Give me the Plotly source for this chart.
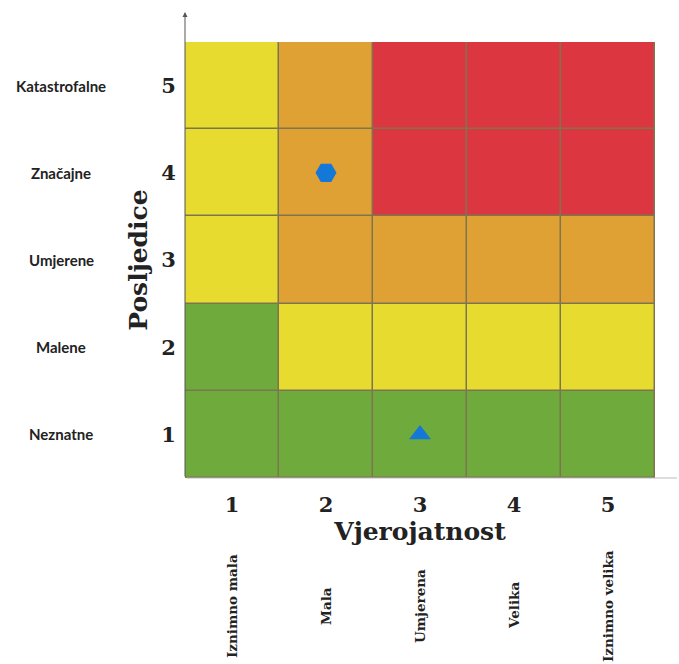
import plotly.graph_objects as go

# Risk matrix: likelihood (x) vs. consequence (y)
likelihood = [1, 2, 3, 4, 5]
likelihood_names = ["Iznimno mala", "Mala", "Umjerena", "Velika", "Iznimno velika"]
consequence = [1, 2, 3, 4, 5]
consequence_names = ["Neznatne", "Malene", "Umjerene", "Značajne", "Katastrofalne"]

# risk level per cell: 0 = low (green), 1 = medium (yellow), 2 = high (orange), 3 = extreme (red)
# rows are consequence 1..5, columns are likelihood 1..5
risk_level = [
    [0, 0, 0, 0, 0],
    [0, 1, 1, 1, 1],
    [1, 2, 2, 2, 2],
    [1, 2, 3, 3, 3],
    [1, 2, 3, 3, 3],
]
level_colors = ["#6eaa3c", "#e8db30", "#e0a134", "#dc3640"]

# assessed risks plotted on the matrix
risk_x = [2, 3]
risk_y = [4, 1]
risk_symbols = ["hexagon2", "triangle-up"]
risk_sizes = [21, 19]

colorscale = []
n = len(level_colors)
for i, c in enumerate(level_colors):
    colorscale.append([i / n, c])
    colorscale.append([(i + 1) / n, c])

serif = "DejaVu Serif"
sans = "Lato"
ink = "#222222"

fig = go.Figure()
fig.add_trace(go.Heatmap(
    x=likelihood, y=consequence, z=risk_level,
    colorscale=colorscale, zmin=-0.5, zmax=n - 0.5,
    showscale=False, xgap=1.5, ygap=1.5, hoverinfo="skip",
))
fig.add_trace(go.Scatter(
    x=risk_x, y=risk_y, mode="markers",
    marker=dict(symbol=risk_symbols, size=risk_sizes, color="#1478d8",
                opacity=1, line=dict(width=0)),
    hoverinfo="skip", showlegend=False,
))

fig.update_layout(
    width=679, height=664,
    margin=dict(l=185, r=24, t=42, b=186),
    paper_bgcolor="white", plot_bgcolor="#7d7450",
    showlegend=False,
    xaxis=dict(
        range=[0.5, 5.5], tickvals=likelihood, ticktext=[str(v) for v in likelihood],
        showgrid=False, zeroline=False, showline=False,
        tickfont=dict(family=serif, size=21, color=ink, weight="bold"),
        ticks="outside", ticklen=8, tickcolor="rgba(0,0,0,0)",
        title=dict(text="Vjerojatnost", standoff=4,
                   font=dict(family=serif, size=25, color=ink, weight="bold")),
    ),
    yaxis=dict(
        range=[0.5, 5.5], tickvals=consequence, ticktext=[str(v) for v in consequence],
        showgrid=False, zeroline=False, showline=False,
        tickfont=dict(family=serif, size=21, color=ink, weight="bold"),
        ticks="outside", ticklen=4, tickcolor="rgba(0,0,0,0)",
        title=dict(text="Posljedice", standoff=6,
                   font=dict(family=serif, size=25, color=ink, weight="bold")),
    ),
)

plot_h = 664 - 42 - 186
plot_w = 679 - 185 - 24

# consequence names on the left
for y, name in zip(consequence, consequence_names):
    fig.add_annotation(x=(61 - 185) / plot_w, xref="paper", y=y, yref="y", text=name,
                       showarrow=False, xanchor="center", yanchor="middle",
                       font=dict(family=sans, size=15, color=ink, weight="bold"))

# likelihood names below, rotated
for x, name in zip(likelihood, likelihood_names):
    fig.add_annotation(x=x, xref="x", y=-(606 - 478) / plot_h, yref="paper",
                       text=name, showarrow=False, textangle=-90,
                       xanchor="center", yanchor="middle",
                       font=dict(family=serif, size=13.5, color=ink, weight="bold"))

# axis arrows
fig.add_annotation(x=0, xref="paper", y=1 + 30 / plot_h, yref="paper", text="",
                   showarrow=True, ax=0, ay=plot_h + 30, arrowhead=2, arrowsize=1,
                   arrowwidth=1, arrowcolor="#555555")
fig.add_annotation(x=1 + 22 / plot_w, xref="paper", y=0, yref="paper", text="",
                   showarrow=True, ax=-(plot_w + 22), ay=0, arrowhead=0,
                   arrowwidth=1, arrowcolor="#bbbbbb")

fig.write_html("out.html")
